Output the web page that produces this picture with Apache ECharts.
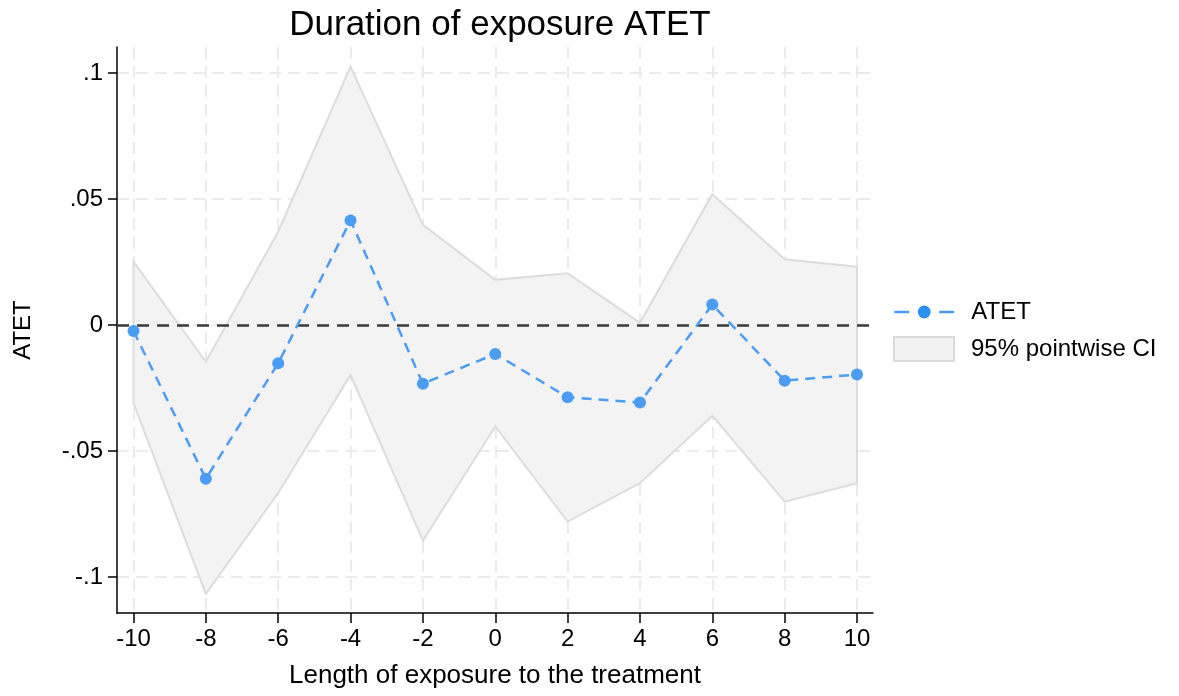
<!DOCTYPE html>
<html>
<head>
<meta charset="utf-8">
<script src="https://cdn.jsdelivr.net/npm/echarts@6/dist/echarts.min.js"></script>
<style>
  html, body { margin: 0; padding: 0; background: #fff; }
  #chart { width: 1179px; height: 696px; }
</style>
</head>
<body>
<div id="chart"></div>
<script>
// data
var lengths = [-10, -8, -6, -4, -2, 0, 2, 4, 6, 8, 10];
var atet    = [-0.0024, -0.0610, -0.0152, 0.0415, -0.0233, -0.0115, -0.0287, -0.0308, 0.0081, -0.0221, -0.0197];
var ciHigh  = [0.0251, -0.0146, 0.0370, 0.1025, 0.0397, 0.0179, 0.0205, 0.0009, 0.0519, 0.0261, 0.0231];
var ciLow   = [-0.0310, -0.1067, -0.0667, -0.0198, -0.0856, -0.0403, -0.0780, -0.0628, -0.0360, -0.0701, -0.0628];
var xTicks  = [-10, -8, -6, -4, -2, 0, 2, 4, 6, 8, 10];
var yTicks  = [-0.1, -0.05, 0, 0.05, 0.1];

var FONT = 'Liberation Sans';

var chartDom = document.getElementById('chart');
var myChart = echarts.init(chartDom);

var ciData = lengths.map(function (x, i) { return [x, ciLow[i], ciHigh[i]]; });
var atetData = lengths.map(function (x, i) { return [x, atet[i]]; });

function fmtY(v) {
  return String(v).replace(/^(-?)0\./, '$1.');
}

var gridLine = {
  show: true,
  lineStyle: { color: '#ebebeb', width: 2, type: [12, 7] }
};

var option = {
  animation: false,
  backgroundColor: '#fff',
  textStyle: { fontFamily: FONT },
  title: {
    text: 'Duration of exposure ATET',
    left: 495,
    textAlign: 'center',
    top: 3,
    textStyle: { fontFamily: FONT, fontSize: 35, fontWeight: 'normal', color: '#000' }
  },
  legend: [
    {
      data: ['ATET'],
      left: 893,
      top: 300,
      orient: 'vertical',
      itemWidth: 60,
      itemHeight: 16,
      padding: 0,
      lineStyle: { type: [15, 30], width: 2.5 },
      itemStyle: { color: '#2a8ff2' },
      textStyle: { fontFamily: FONT, fontSize: 24, color: '#000', padding: [0, 0, 0, 12] }
    },
    {
      data: [{
        name: '95% pointwise CI',
        icon: 'rect',
        itemStyle: { color: '#f2f2f2', borderColor: '#dadada', borderWidth: 2 }
      }],
      left: 893,
      top: 336,
      orient: 'vertical',
      itemWidth: 60,
      itemHeight: 24,
      padding: 0,
      textStyle: { fontFamily: FONT, fontSize: 24, color: '#000', padding: [0, 0, 0, 12] }
    }
  ],
  grid: {
    left: 117,
    right: 306,
    top: 47,
    bottom: 83
  },
  xAxis: {
    type: 'value',
    min: -10.456,
    max: 10.442,
    name: 'Length of exposure to the treatment',
    nameLocation: 'middle',
    nameGap: 50,
    nameTextStyle: { fontFamily: FONT, fontSize: 26, color: '#000' },
    axisLine: { onZero: false, lineStyle: { color: '#000', width: 1.5 } },
    axisTick: { show: true, length: 10, customValues: xTicks, lineStyle: { color: '#000', width: 1.5 } },
    axisLabel: { customValues: xTicks, margin: 14, fontFamily: FONT, fontSize: 24, color: '#000' },
    splitLine: gridLine
  },
  yAxis: {
    type: 'value',
    min: -0.1143,
    max: 0.1103,
    name: 'ATET',
    nameLocation: 'middle',
    nameGap: 82,
    nameTextStyle: { fontFamily: FONT, fontSize: 24, color: '#000' },
    axisLine: { show: true, onZero: false, lineStyle: { color: '#000', width: 1.5 } },
    axisTick: { show: true, length: 9, customValues: yTicks, lineStyle: { color: '#000', width: 1.5 } },
    axisLabel: { customValues: yTicks, margin: 14, fontFamily: FONT, fontSize: 24, color: '#000', formatter: fmtY },
    splitLine: gridLine
  },
  series: [
    {
      name: '95% pointwise CI',
      type: 'custom',
      silent: true,
      itemStyle: { color: '#f2f2f2', borderColor: '#dadada', borderWidth: 2 },
      encode: { x: 0, y: [1, 2] },
      data: ciData,
      renderItem: function (params, api) {
        if (params.dataIndex !== 0) return null;
        var pts = [];
        for (var i = 0; i < ciData.length; i++) {
          pts.push(api.coord([ciData[i][0], ciData[i][2]]));
        }
        for (var j = ciData.length - 1; j >= 0; j--) {
          pts.push(api.coord([ciData[j][0], ciData[j][1]]));
        }
        return {
          type: 'polygon',
          shape: { points: pts },
          style: { fill: '#f3f3f3', stroke: '#dcdcdc', lineWidth: 2 }
        };
      },
      z: 2
    },
    {
      name: 'ATET',
      type: 'line',
      data: atetData,
      symbol: 'circle',
      symbolSize: 12,
      color: '#4b9df4',
      itemStyle: { color: '#4b9df4' },
      lineStyle: { color: '#4b9df4', width: 2.5, type: [10, 7] },
      z: 4,
      markLine: {
        silent: true,
        symbol: 'none',
        label: { show: false },
        lineStyle: { color: '#3a3a3a', width: 2.5, type: [12, 8] },
        data: [{ yAxis: 0 }],
        z: 3
      }
    }
  ]
};

myChart.setOption(option);
</script>
</body>
</html>
